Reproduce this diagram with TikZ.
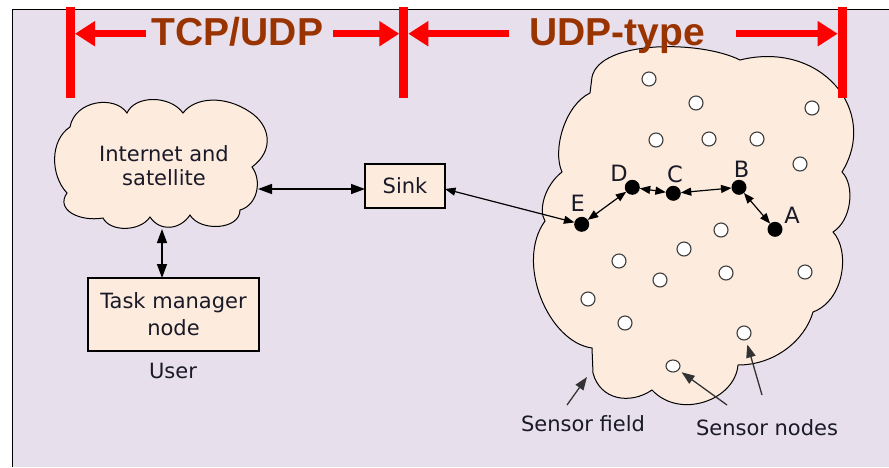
\documentclass[tikz,border=0pt]{standalone}
\usepackage{fontspec}
\setmainfont{DejaVu Sans}
\newfontfamily\headfont{Liberation Sans}
\usetikzlibrary{arrows.meta,calc,shapes.geometric}

\definecolor{bgcol}{RGB}{232,223,236}
\definecolor{peach}{RGB}{253,236,222}
\definecolor{rust}{RGB}{153,51,0}
\definecolor{ink}{RGB}{25,25,40}
\definecolor{ringgray}{RGB}{60,60,60}

\begin{document}
\begin{tikzpicture}[x=1pt,y=-1pt,
  every node/.style={inner sep=0pt, outer sep=0pt},
  >={Triangle[length=14pt,width=10pt]},
  lbl/.style={font=\fontsize{21}{24}\selectfont, text=ink},
  tag/.style={font=\fontsize{22.5}{24}\selectfont, text=ink},
  head/.style={font=\headfont\bfseries\fontsize{39}{40}\selectfont, text=rust},
  outline/.style={draw=black, line width=1pt, fill=peach},
  box/.style={draw=black, line width=1.3pt, fill=peach, font=\fontsize{21}{27}\selectfont, text=ink, align=center},
  link/.style={line width=1.5pt, <->},
  hop/.style={line width=1.2pt, {Triangle[length=10.5pt,width=8pt]}-{Triangle[length=10.5pt,width=8pt]}},
  ptr/.style={line width=1.3pt, draw=black!80, -{Triangle[length=13pt,width=9.5pt]}},
  span/.style={draw=red, line width=7pt, -{Triangle[length=20pt,width=24pt]}},
  bar/.style={fill=red, minimum width=9pt, minimum height=91pt},
  sensor/.style={circle, draw=ringgray, line width=1.1pt, fill=white, minimum size=14pt},
  relay/.style={circle, fill=black, minimum size=15pt}
]
\useasboundingbox (0,0) rectangle (889,467);

% page background and frame edges
\fill[bgcol] (12,9) rectangle (889,467);
\draw[line width=1pt] (12,467) -- (12,9) -- (889,9);

% Internet and satellite cloud
\draw[outline] (70,127) .. controls (75,100) and (115,95) .. (127,113)
  .. controls (135,95) and (170,95) .. (183,113)
  .. controls (195,97) and (225,95) .. (250,112)
  .. controls (270,125) and (275,150) .. (252,167)
  .. controls (262,180) and (258,205) .. (240,210)
  .. controls (240,230) and (200,232) .. (190,215)
  .. controls (180,230) and (160,232) .. (150,217)
  .. controls (140,232) and (110,232) .. (103,218)
  .. controls (80,222) and (55,210) .. (67,193)
  .. controls (50,175) and (50,140) .. (70,127) -- cycle;
\node[lbl, align=center] (inet) at (164,166) {Internet and\\satellite};
\coordinate (inetE) at (258,189);
\coordinate (inetS) at (162,229);

% sensor field cloud
\draw[outline] (592,348) .. controls (548,342) and (515,262) .. (545,221)
  .. controls (538,210) and (545,185) .. (562,172)
  .. controls (552,150) and (565,105) .. (590,93)
  -- (592,77)
  .. controls (600,40) and (700,40) .. (740,60)
  .. controls (820,40) and (880,110) .. (842,172)
  .. controls (855,185) and (852,220) .. (833,232)
  .. controls (850,250) and (845,300) .. (813,312)
  .. controls (805,340) and (775,365) .. (738,365)
  .. controls (735,400) and (680,420) .. (652,390)
  .. controls (630,405) and (600,400) .. (593,373)
  -- cycle;

% boxes
\node[box, minimum width=80pt, minimum height=44pt] (sink) at (405,186) {Sink};
\node[box, minimum width=171pt, minimum height=73pt] (task) at (173.5,314.5) {Task manager\\node};
\node[lbl, anchor=base] (user) at (173,378) {User};

% sensor nodes
\foreach \x/\y [count=\i] in {649/79, 696/103, 812/108, 656/140, 709/139, 757/139,
    800/164, 721/230, 684/249, 619/261, 726/273, 805/272, 660/280, 588/299,
    625/323, 744/333}
  \node[sensor] (s\i) at (\x,\y) {};
\node[ellipse, draw=ringgray, line width=1.1pt, fill=white, minimum width=14pt, minimum height=12pt] (s17) at (673,366) {};

% relay path nodes
\node[relay] (nE) at (581.7,224.3) {};
\node[relay] (nD) at (632.3,187.3) {};
\node[relay] (nC) at (673.3,193.3) {};
\node[relay] (nB) at (739,187.3) {};
\node[relay] (nA) at (775,229.3) {};
\node[tag, anchor=base] (lE) at (577.7,211.7) {E};
\node[tag, anchor=base] (lD) at (619,181.7) {D};
\node[tag, anchor=base] (lC) at (675,182.5) {C};
\node[tag, anchor=base] (lB) at (741.7,177.3) {B};
\node[tag, anchor=base] (lA) at (792,223.3) {A};

% connections
\draw[link] (inetE) -- (inetE -| sink.west);
\draw[link] (inetS) -- (inetS |- task.north);
\draw[hop] ([yshift=-3pt]sink.east) -- (nE);
\draw[hop] (nE) -- (nD);
\draw[hop] (nD) -- (nC);
\draw[hop] (nC) -- (nB);
\draw[hop] (nB) -- (nA);

% captions and pointers
\node[lbl, anchor=base] (field) at (583,431) {Sensor field};
\node[lbl, anchor=base] (snodes) at (767,435) {Sensor nodes};
\coordinate (fieldfrom) at (567,405);
\coordinate (fieldtip) at (587,377);
\coordinate (snfromA) at (727,405);
\coordinate (snfromB) at (762,395);
\draw[ptr] (fieldfrom) -- (fieldtip);
\draw[ptr, shorten >=4pt] (snfromA) -- (s17);
\draw[ptr, shorten >=5pt] (snfromB) -- (s16);

% protocol spans
\node[bar] (barL) at (70.5,52.2) {};
\node[bar] (barM) at (403.8,52.2) {};
\node[bar] (barR) at (842.2,52.2) {};
\coordinate (row) at (0,33.7);
\node[head, anchor=base] (tcp) at (237.5,45) {TCP/UDP};
\node[head, anchor=base] (udp) at (617,45) {UDP-type};
\draw[span] ($(tcp.west |- row)+(-6,0)$) -- (barL.east |- row);
\draw[span] ($(tcp.east |- row)+(10,0)$) -- (barM.west |- row);
\draw[span] ($(udp.west |- row)+(-20,0)$) -- (barM.east |- row);
\draw[span] ($(udp.east |- row)+(31,0)$) -- (barR.west |- row);
\end{tikzpicture}
\end{document}
